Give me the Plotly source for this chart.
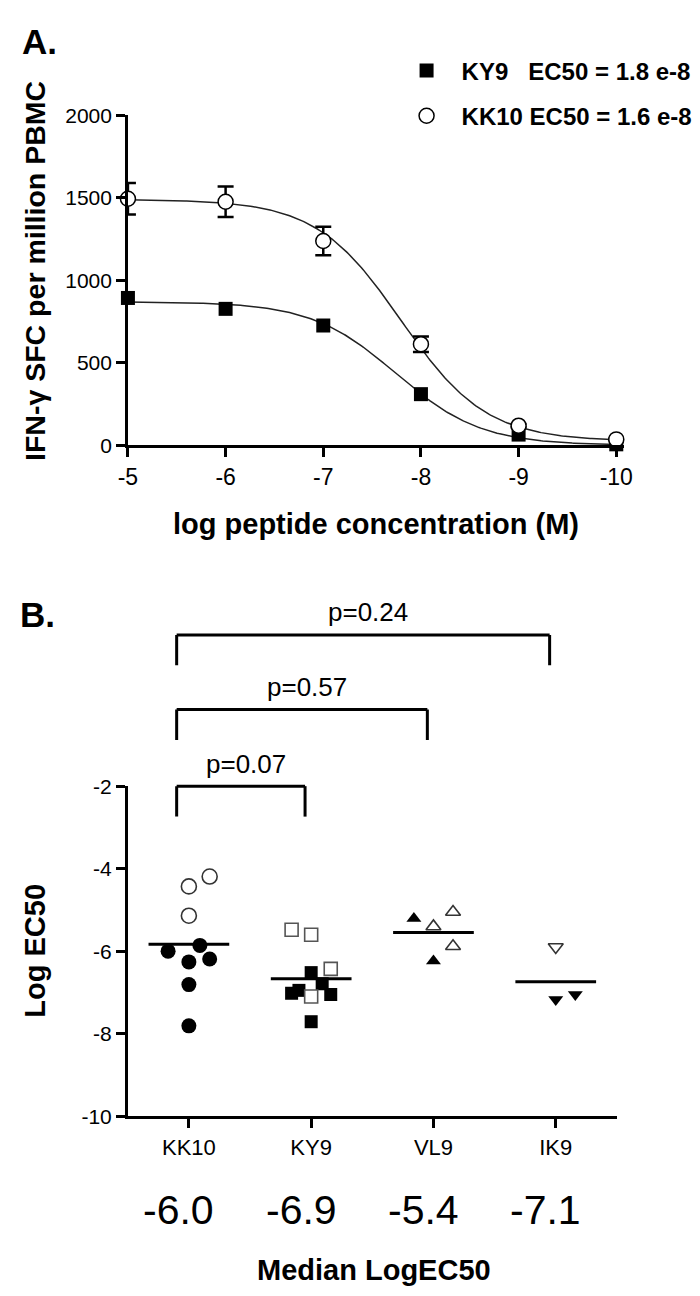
import numpy as np
import plotly.graph_objects as go

W, H = 700, 1296

# ---------------- Panel A data ----------------
log_conc = [-5, -6, -7, -8, -9, -10]
ky9_sfc = [893, 827, 726, 310, 65, 6]
kk10_sfc = [1494, 1476, 1238, 613, 119, 36]
kk10_err = [95, 92, 86, 47, 10, 5]
a_yticks = [0, 500, 1000, 1500, 2000]

# 4-parameter logistic fits (EC50 from legend)
ky9_top, ky9_bottom, ky9_ec50, ky9_hill = 870, 0, 1.8e-8, 1.0
kk10_top, kk10_bottom, kk10_ec50, kk10_hill = 1490, 25, 1.6e-8, 1.0
legend_labels = ["KY9   EC50 = 1.8 e-8", "KK10 EC50 = 1.6 e-8"]

# ---------------- Panel B data ----------------
peptides = ["KK10", "KY9", "VL9", "IK9"]
median_text = ["-6.0", "-6.9", "-5.4", "-7.1"]
median_line = [-5.83, -6.67, -5.55, -6.74]
b_yticks = [-10, -8, -6, -4, -2]

kk10_open = [-4.43, -4.19, -5.14]
kk10_open_jit = [0.0, 0.17, 0.0]
kk10_fill = [-6.00, -5.86, -6.26, -6.19, -6.81, -7.81]
kk10_fill_jit = [-0.17, 0.09, 0.0, 0.17, 0.0, 0.0]

ky9_open = [-5.48, -5.60, -6.43, -7.10]
ky9_open_jit = [-0.16, 0.0, 0.16, 0.0]
ky9_fill = [-6.52, -7.02, -6.95, -6.79, -7.05, -7.71]
ky9_fill_jit = [0.0, -0.16, -0.10, 0.09, 0.16, 0.0]

vl9_open = [-5.40, -5.05, -5.88]
vl9_open_jit = [0.0, 0.16, 0.16]
vl9_fill = [-5.21, -6.24]
vl9_fill_jit = [-0.16, 0.0]

ik9_open = [-5.90]
ik9_open_jit = [0.0]
ik9_fill = [-7.17, -7.05]
ik9_fill_jit = [0.0, 0.16]

comparisons = [("KK10", "IK9", "p=0.24"), ("KK10", "VL9", "p=0.57"), ("KK10", "KY9", "p=0.07")]

# ---------------- helpers ----------------
def px(x):
    return x / W

def py(y):
    return 1 - y / H

SANS = "Liberation Sans, Arial"

def logistic(x, top, bottom, ec50, hill):
    x = np.asarray(x)
    return bottom + (top - bottom) / (1 + 10 ** ((np.log10(ec50) - x) * hill))

fig = go.Figure()

# fit curves
xc = np.linspace(log_conc[0], log_conc[-1], 300)
fig.add_trace(go.Scatter(x=xc, y=logistic(xc, ky9_top, ky9_bottom, ky9_ec50, ky9_hill),
                         mode="lines", line=dict(color="#222", width=1.5),
                         showlegend=False, hoverinfo="skip", xaxis="x", yaxis="y", cliponaxis=False))
fig.add_trace(go.Scatter(x=xc, y=logistic(xc, kk10_top, kk10_bottom, kk10_ec50, kk10_hill),
                         mode="lines", line=dict(color="#222", width=1.5),
                         showlegend=False, hoverinfo="skip", xaxis="x", yaxis="y", cliponaxis=False))

# data points
fig.add_trace(go.Scatter(x=log_conc, y=ky9_sfc, mode="markers", name=f"<b>{legend_labels[0]}</b>",
                         legendgroup="a",
                         marker=dict(symbol="square", size=14, color="black"),
                         xaxis="x", yaxis="y", cliponaxis=False))
fig.add_trace(go.Scatter(x=log_conc, y=kk10_sfc, mode="markers", name=f"<b>{legend_labels[1]}</b>",
                         legendgroup="b",
                         error_y=dict(type="data", array=kk10_err, color="black", thickness=2.5, width=8),
                         marker=dict(symbol="circle", size=15, color="white",
                                     line=dict(color="black", width=1.5)),
                         xaxis="x", yaxis="y", cliponaxis=False))

# ---------------- Panel B ----------------
for i, m in enumerate(median_line):
    fig.add_trace(go.Scatter(x=[i - 0.33, i + 0.33], y=[m, m], mode="lines",
                             line=dict(color="black", width=3), showlegend=False,
                             hoverinfo="skip", xaxis="x2", yaxis="y2"))

def add_group(idx, yv, jit, symbol, size, filled, lc="black"):
    fig.add_trace(go.Scatter(
        x=[idx + j for j in jit], y=yv, mode="markers", showlegend=False,
        marker=dict(symbol=symbol, size=size,
                    color="black" if filled else "white",
                    line=dict(color=lc, width=0 if filled else 1.6)),
        xaxis="x2", yaxis="y2", cliponaxis=False))

add_group(0, kk10_fill, kk10_fill_jit, "circle", 15, True)
add_group(0, kk10_open, kk10_open_jit, "circle", 15, False, "#333")
add_group(1, ky9_fill, ky9_fill_jit, "square", 13, True)
add_group(1, ky9_open, ky9_open_jit, "square", 13, False, "#555")
add_group(2, vl9_fill, vl9_fill_jit, "triangle-up", 13, True)
add_group(2, vl9_open, vl9_open_jit, "triangle-up", 13, False, "#333")
add_group(3, ik9_fill, ik9_fill_jit, "triangle-down", 13, True)
add_group(3, ik9_open, ik9_open_jit, "triangle-down", 13, False, "#333")

# brackets
bracket_tops = [626, 702, 780]
leg_len = 31
shapes = []
annotations = []
for (a, b, ptxt), top in zip(comparisons, bracket_tops):
    x0 = peptides.index(a) - 0.1
    x1 = peptides.index(b) - 0.05
    for xs0, ys0, xs1, ys1 in [(x0, top + leg_len, x0, top), (x0, top, x1, top), (x1, top, x1, top + leg_len)]:
        shapes.append(dict(type="line", xref="x2", yref="paper", x0=xs0, x1=xs1,
                           y0=py(ys0), y1=py(ys1), line=dict(color="black", width=3)))
    annotations.append(dict(text=ptxt, xref="x2", yref="paper", x=(x0 + x1) / 2, y=py(top - 23),
                            xshift=5, showarrow=False, xanchor="center", yanchor="middle",
                            font=dict(family=SANS, size=26, color="black")))

for i, t in enumerate(median_text):
    annotations.append(dict(text=t, xref="x2", yref="paper", x=i, y=py(1211), xshift=-10,
                            showarrow=False, xanchor="center", yanchor="middle",
                            font=dict(family=SANS, size=41, color="black")))

def title(text, x, y, size=29, angle=0, bold=True, anchor="center"):
    annotations.append(dict(text=f"<b>{text}</b>" if bold else text, xref="paper", yref="paper",
                            x=px(x), y=py(y), showarrow=False, textangle=angle,
                            xanchor=anchor, yanchor="middle",
                            font=dict(family=SANS, size=size, color="black")))

title("A.", 2, 22, size=35, anchor="left")
title("B.", 0, 605, size=35, anchor="left")
title("IFN-γ SFC per million PBMC", 18, 256, size=28.5, angle=-90)
title("log peptide concentration (M)", 368, 513)
title("Log EC50", 18, 948, angle=-90)
title("Median LogEC50", 366, 1273)

axis_common = dict(showline=True, linecolor="black", showgrid=False, zeroline=False,
                   ticks="outside", tickcolor="black", tickwidth=2.5, ticklen=9)

fig.update_layout(
    width=W, height=H, margin=dict(l=0, r=0, t=0, b=0),
    plot_bgcolor="white", paper_bgcolor="white",
    shapes=shapes, annotations=annotations,
    showlegend=True,
    legend=dict(x=px(384), y=py(29), xanchor="left", yanchor="top",
                font=dict(family=SANS, size=24, color="black"),
                traceorder="grouped", tracegroupgap=11, itemwidth=60,
                bgcolor="rgba(0,0,0,0)", borderwidth=0),
    xaxis=dict(domain=[px(113), px(623)], range=[-5, -10.08], anchor="y",
               tickvals=log_conc, ticktext=[str(v) for v in log_conc],
               tickfont=dict(family=SANS, size=23, color="black"), linewidth=3, **axis_common),
    yaxis=dict(domain=[py(433), py(97)], range=[0, 2000], anchor="x",
               tickvals=a_yticks, ticktext=[str(v) for v in a_yticks],
               tickfont=dict(family=SANS, size=21, color="black"), linewidth=2.5, **axis_common),
    xaxis2=dict(domain=[px(112.8), px(615.6)], range=[-0.5, 3.5], anchor="y2",
                tickvals=list(range(len(peptides))), ticktext=peptides,
                tickfont=dict(family=SANS, size=22, color="black"), linewidth=3, **axis_common),
    yaxis2=dict(domain=[py(1116), py(780)], range=[-10, -2], anchor="x2",
                tickvals=b_yticks, ticktext=[str(v) for v in b_yticks],
                tickfont=dict(family=SANS, size=21, color="black"), linewidth=2.5, **axis_common),
)

fig.write_html("out.html")
